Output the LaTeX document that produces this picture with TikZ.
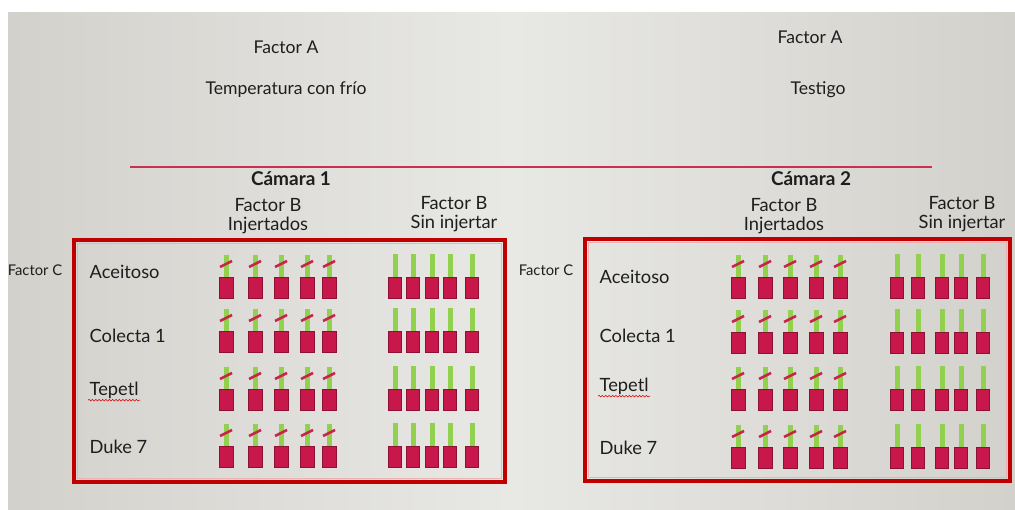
\documentclass[tikz,border=0pt]{standalone}
\usepackage{fontspec}
\setmainfont{Lato}
\usetikzlibrary{decorations.pathmorphing}
\definecolor{fondo}{HTML}{E8E8E5}
\definecolor{fondoborde}{HTML}{D3D1CC}
\definecolor{texto}{HTML}{1E1E1E}
\definecolor{rojocaja}{HTML}{C00000}
\definecolor{rojolinea}{HTML}{C8324E}
\definecolor{rojomaceta}{HTML}{C8174A}
\definecolor{bordemaceta}{HTML}{8E1034}
\definecolor{verdetallo}{HTML}{92D050}
\definecolor{rojocorte}{HTML}{C8244A}
\tikzset{
    diseno/.style   = {x=0.025cm, y=-0.025cm, every node/.style={text=texto}},
    factor/.style   = {font=\fontsize{12.5}{14}\selectfont},
    encabezado/.style = {font=\fontsize{13}{13.5}\selectfont, align=center},
    camara/.style   = {font=\bfseries\fontsize{13.5}{15}\selectfont},
    fila/.style     = {font=\fontsize{13}{15}\selectfont, anchor=base west,
                       inner sep=1pt},
    factorc/.style  = {font=\fontsize{10.5}{12}\selectfont},
    caja/.style     = {draw=rojocaja, line width=2.4pt},
    cajaluz/.style  = {draw=rojocaja!30, line width=0.6pt},
    maceta/.style   = {fill=rojomaceta, draw=bordemaceta, line width=0.25pt},
    tallo/.style    = {fill=verdetallo},
    corte/.style    = {draw=rojocorte, line width=1.9pt},
    subrayado/.style = {draw=red!85!black, line width=0.4pt, decorate,
                       decoration={snake, amplitude=0.6pt, segment length=2.4pt}}
}

\begin{document}
\begin{tikzpicture}[diseno]
\useasboundingbox (0,0) rectangle (1015,510);

% Slide background, lighter towards the middle
\fill[white] (0,0) rectangle (1015,510);
\shade[left color=fondoborde, right color=fondoborde, middle color=fondo]
    (8,13) rectangle (1015,510);

% Factor A: the two temperature treatments
\node[factor] (factorAfrio) at (286,47) {Factor A};
\node[factor] (nivelfrio) at (286,90) {Temperatura con frío};
\node[factor] (factorAtestigo) at (810,37) {Factor A};
\node[factor] (niveltestigo) at (818,90) {Testigo};
\draw[rojolinea, line width=1.1pt] (130,167) -- (932,167);

% Chambers and Factor B headings
\node[camara] (camara1) at (291,179) {Cámara 1};
\node[camara] (camara2) at (811,179) {Cámara 2};
\node[encabezado] (inj1) at (268,216) {Factor B\\Injertados};
\node[encabezado] (sin1) at (454,214) {Factor B\\Sin injertar};
\node[encabezado] (inj2) at (784,216) {Factor B\\Injertados};
\node[encabezado] (sin2) at (962,214) {Factor B\\Sin injertar};

% Chamber frames
\draw[caja] (74,240) rectangle (505,482);
\draw[cajaluz] (77.5,243.5) rectangle (501.5,478.5);
\draw[caja] (585,239) rectangle (1010,481);
\draw[cajaluz] (588.5,242.5) rectangle (1006.5,477.5);

% Factor C: the varieties
\node[factorc] (factorC1) at (35,270) {Factor C};
\node[factorc] (factorC2) at (546,270) {Factor C};
\foreach \n/\t/\y in {aceitoso/Aceitoso/279, colecta/Colecta 1/343,
                      tepetl/Tepetl/396, duke/Duke 7/454}
    \node[fila] (\n1) at (88,\y) {\t};
\foreach \n/\t/\y in {aceitoso/Aceitoso/284, colecta/Colecta 1/343,
                      tepetl/Tepetl/392, duke/Duke 7/455}
    \node[fila] (\n2) at (598,\y) {\t};
\draw[subrayado] ([yshift=-3pt]tepetl1.base west) -- ([yshift=-3pt]tepetl1.base east);
\draw[subrayado] ([yshift=-3pt]tepetl2.base west) -- ([yshift=-3pt]tepetl2.base east);

% Grafted plants: stem with a cut mark over the pot
\foreach \y in {277,331,389,446}
    \foreach \x in {226,255,281,307,329} {
        \fill[tallo] (\x-2.5,\y-22) rectangle (\x+2.5,\y);
        \draw[corte] (\x-6,\y-10) -- (\x+6,\y-16);
        \filldraw[maceta] (\x-7,\y) rectangle (\x+7,\y+21);
    }
\foreach \y in {277,332,389,447}
    \foreach \x in {738,765,790,816,840} {
        \fill[tallo] (\x-2.5,\y-22) rectangle (\x+2.5,\y);
        \draw[corte] (\x-6,\y-10) -- (\x+6,\y-16);
        \filldraw[maceta] (\x-7,\y) rectangle (\x+7,\y+21);
    }

% Ungrafted plants
\foreach \y in {277,331,389,446}
    \foreach \x in {395,413,432,450,472} {
        \fill[tallo] (\x-2.5,\y-23) rectangle (\x+2.5,\y);
        \filldraw[maceta] (\x-6.5,\y) rectangle (\x+6.5,\y+21);
    }
\foreach \y in {277,332,389,447}
    \foreach \x in {897,918,942,961,983} {
        \fill[tallo] (\x-2.5,\y-23) rectangle (\x+2.5,\y);
        \filldraw[maceta] (\x-6.5,\y) rectangle (\x+6.5,\y+21);
    }

\end{tikzpicture}
\end{document}
